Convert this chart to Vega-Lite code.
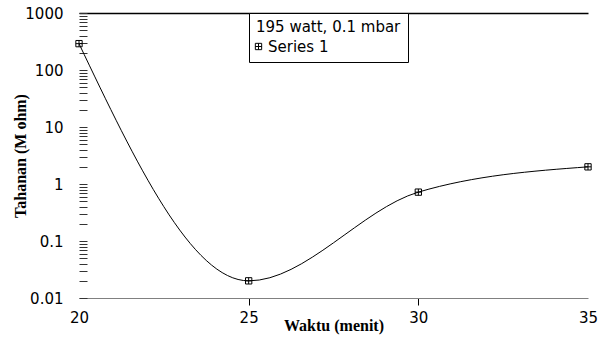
{
  "$schema": "https://vega.github.io/schema/vega-lite/v6.json",
  "width": 509,
  "height": 285,
  "autosize": {"type": "none"},
  "padding": {"left": 79, "top": 13, "right": 19, "bottom": 48},
  "background": "white",
  "config": {"view": {"stroke": null}},
  "data": {
    "values": [
      {"t": 20, "r": 290, "s": "Series 1"},
      {"t": 25, "r": 0.02, "s": "Series 1"},
      {"t": 30, "r": 0.72, "s": "Series 1"},
      {"t": 35, "r": 2.0, "s": "Series 1"}
    ]
  },
  "encoding": {
    "x": {
      "field": "t",
      "type": "quantitative",
      "scale": {"domain": [20, 35], "nice": false, "zero": false},
      "axis": {
        "title": "Waktu (menit)",
        "values": [20, 25, 30, 35],
        "grid": false,
        "domainColor": "#808080",
        "domainWidth": 1,
        "tickSize": 7,
        "tickColor": {"condition": {"test": "datum.value == 20 || datum.value == 35", "value": "transparent"}, "value": "black"},
        "labelFont": "DejaVu Sans",
        "labelFontSize": 15,
        "labelColor": "black",
        "labelPadding": 5,
        "labelFlush": false,
        "titleFont": "Liberation Serif",
        "titleFontSize": 16,
        "titleFontWeight": "bold",
        "titleColor": "black",
        "titlePadding": -8
      }
    },
    "y": {
      "field": "r",
      "type": "quantitative",
      "scale": {"type": "log", "domain": [0.01, 1000], "nice": false},
      "axis": {
        "title": "Tahanan (M ohm)",
        "values": [0.01, 0.02, 0.03, 0.04, 0.05, 0.06, 0.07, 0.08, 0.09, 0.1, 0.2, 0.3, 0.4, 0.5, 0.6, 0.7, 0.8, 0.9, 1, 2, 3, 4, 5, 6, 7, 8, 9, 10, 20, 30, 40, 50, 60, 70, 80, 90, 100, 200, 300, 400, 500, 600, 700, 800, 900, 1000],
        "format": "~g",
        "labelExpr": "indexof(['0.01','0.1','1','10','100','1000'], datum.label) >= 0 ? datum.label : ''",
        "labelOverlap": false,
        "labelBound": false,
        "labelFlush": false,
        "domain": false,
        "grid": true,
        "gridColor": {"condition": {"test": "datum.value == 1000", "value": "black"}, "value": "transparent"},
        "gridWidth": 1.5,
        "tickSize": -8,
        "tickColor": "#333333",
        "labelFont": "DejaVu Sans",
        "labelFontSize": 15,
        "labelColor": "black",
        "labelPadding": 24,
        "titleFont": "Liberation Serif",
        "titleFontSize": 16,
        "titleFontWeight": "bold",
        "titleColor": "black",
        "titlePadding": -4
      }
    }
  },
  "layer": [
    {
      "mark": {"type": "line", "interpolate": "monotone", "color": "black", "strokeWidth": 1}
    },
    {
      "mark": {"type": "point", "filled": false, "stroke": "black", "strokeWidth": 1, "size": 40, "opacity": 1},
      "encoding": {
        "shape": {
          "field": "s",
          "type": "nominal",
          "scale": {"range": ["M-1,-1H1V1H-1ZM-1,0H1M0,-1V1"]},
          "legend": {
            "title": "195 watt, 0.1 mbar",
            "orient": "none",
            "legendX": 170,
            "legendY": 0,
            "strokeColor": "black",
            "fillColor": "white",
            "padding": 7,
            "titleFont": "DejaVu Sans",
            "titleFontSize": 15,
            "titleFontWeight": "normal",
            "titleColor": "black",
            "titlePadding": 4,
            "labelFont": "DejaVu Sans",
            "labelFontSize": 15,
            "labelColor": "black",
            "labelOffset": 2,
            "symbolOffset": -5,
            "symbolSize": 40,
            "symbolStrokeColor": "black",
            "symbolStrokeWidth": 1,
            "symbolFillColor": "white"
          }
        }
      }
    }
  ]
}
